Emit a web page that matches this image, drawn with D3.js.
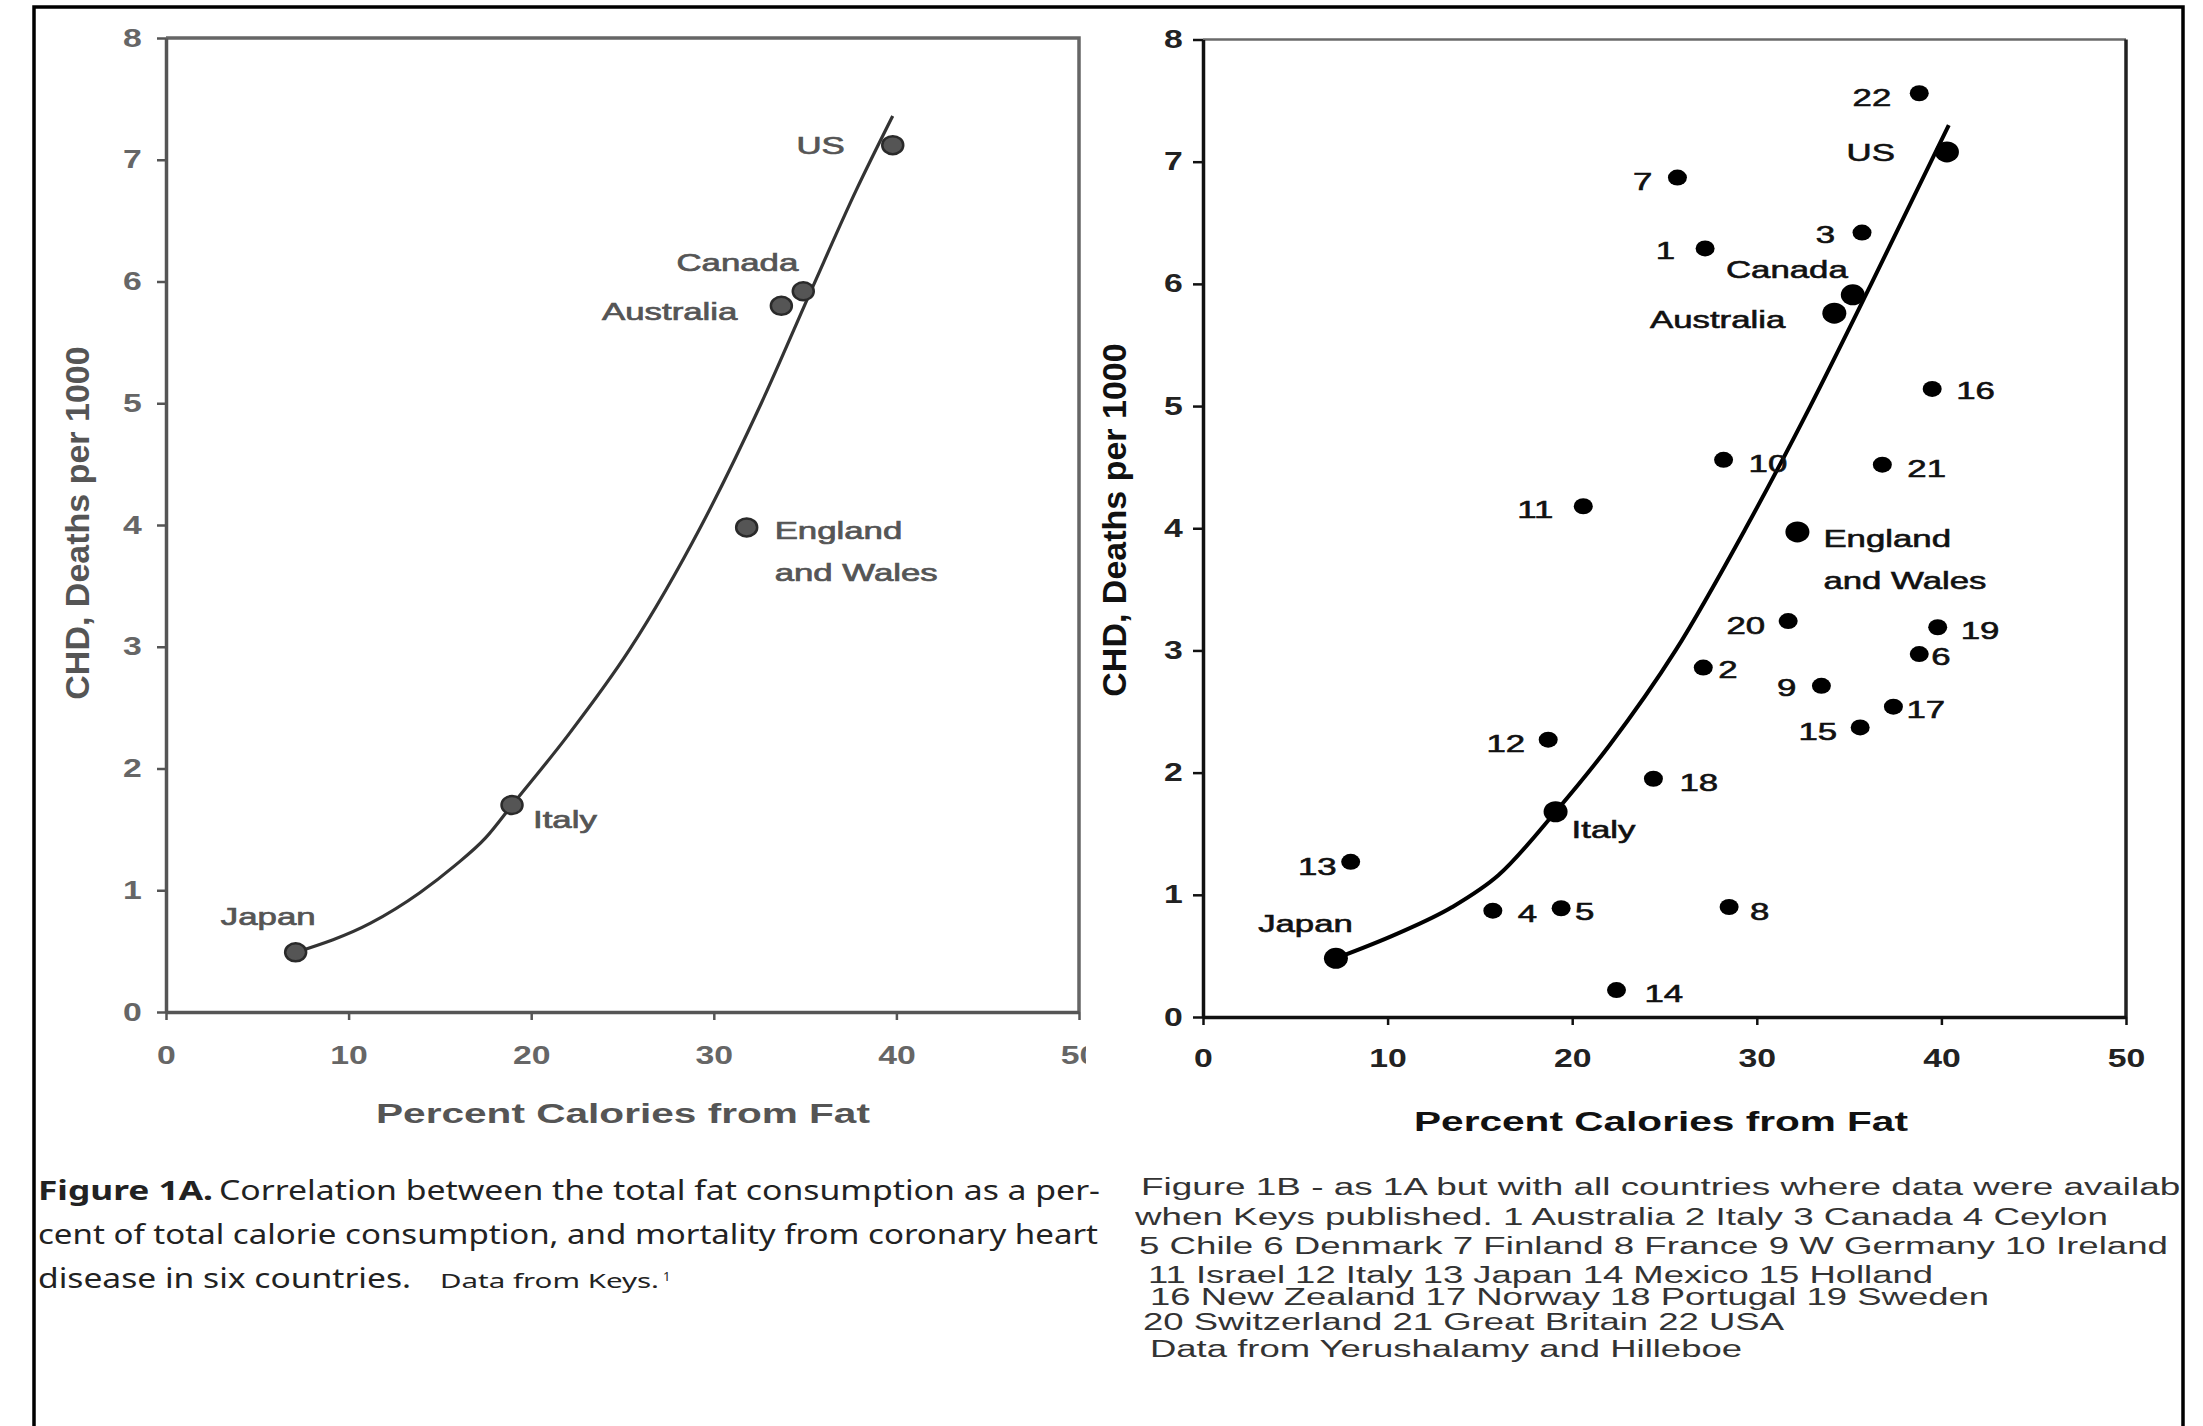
<!DOCTYPE html>
<html>
<head>
<meta charset="utf-8">
<script src="https://cdn.jsdelivr.net/npm/d3@7"></script>
<style>
  html, body { margin: 0; padding: 0; background: #fff; }
  svg { display: block; }
</style>
</head>
<body>
<svg id="chart" width="2203" height="1426"></svg>
<script>
// ---------- Figure 1A: Keys' six countries ----------
const keysCountries = ["Japan", "Italy", "England and Wales", "Australia", "Canada", "US"];
const keysFat = [7.1, 18.95, 31.8, 33.7, 34.9, 39.8];
const keysCHD = [0.49, 1.70, 3.98, 5.80, 5.92, 7.12];

// fitted curve drawn through Keys' points
const keysCurveFat = [7.1, 11.2, 13.9, 15.8, 17.5, 18.95, 22.0, 25.4, 29.3, 32.6, 35.4, 37.8, 39.8];
const keysCurveCHD = [0.49, 0.73, 0.98, 1.20, 1.43, 1.70, 2.27, 2.98, 3.99, 5.00, 5.95, 6.75, 7.36];

// ---------- Figure 1B: all 22 countries ----------
const countryNumbers = [1, 2, 3, 4, 5, 6, 7, 8, 9, 10, 11, 12, 13, 14, 15, 16, 17, 18, 19, 20, 21, 22];
const allFat = [27.2, 27.1, 35.7, 15.7, 19.4, 38.8, 25.7, 28.5, 33.5, 28.2, 20.6,
                18.7, 8.0, 22.4, 35.6, 39.5, 37.4, 24.4, 39.8, 31.7, 36.8, 38.8];
const allCHD = [6.29, 2.86, 6.42, 0.87, 0.89, 2.97, 6.87, 0.90, 2.71, 4.56, 4.18,
                2.27, 1.27, 0.22, 2.37, 5.14, 2.54, 1.95, 3.19, 3.24, 4.52, 7.56];

// the six Keys countries as re-plotted in 1B
const keysFatB = [7.2, 19.1, 32.2, 34.2, 35.2, 40.3];
const keysCHDB = [0.48, 1.68, 3.97, 5.76, 5.91, 7.08];

const curveFatB = [7.2, 10.5, 13.5, 16.0, 19.1, 22.0, 25.6, 29.4, 32.9, 36.2, 40.4];
const curveCHDB = [0.48, 0.68, 0.90, 1.16, 1.68, 2.22, 3.00, 4.00, 5.00, 6.00, 7.30];

const xTickValues = [0, 10, 20, 30, 40, 50];
const yTickValues = [0, 1, 2, 3, 4, 5, 6, 7, 8];

const xTitle = "Percent Calories from Fat";
const yTitle = "CHD, Deaths per 1000";

const captionA = [
  "cent of total calorie consumption, and mortality from coronary heart"
];
const captionB = [
  "Figure 1B - as 1A but with all countries where data were available",
  "when Keys published. 1 Australia 2 Italy 3 Canada 4 Ceylon",
  "5 Chile 6 Denmark 7 Finland 8 France 9 W Germany 10 Ireland",
  "11 Israel 12 Italy 13 Japan 14 Mexico 15 Holland",
  "16 New Zealand 17 Norway 18 Portugal 19 Sweden",
  "20 Switzerland 21 Great Britain 22 USA",
  "Data from Yerushalamy and Hilleboe"
];

// ---------- layout ----------
const svg = d3.select("#chart");
svg.append("rect").attr("width", 2203).attr("height", 1426).attr("fill", "#fff");

const SANS = "'Liberation Sans', Arial, Helvetica, sans-serif";
const STRETCH = 1.45;   // printed lettering is set wide

function label(g, x, y, txt, o) {
  return g.append("text")
    .attr("transform", `translate(${x},${y}) scale(${o.sx || 1},1)`)
    .attr("text-anchor", o.anchor || "start")
    .attr("dominant-baseline", "central")
    .style("font-family", o.family || SANS)
    .style("font-size", o.size + "px")
    .style("font-weight", o.weight || 400)
    .attr("fill", o.color || "#111")
    .text(txt);
}

const defs = svg.append("defs");
defs.append("clipPath").attr("id", "clipA")
  .append("rect").attr("x", 0).attr("y", 0).attr("width", 1086).attr("height", 1426);
defs.append("clipPath").attr("id", "clipPage")
  .append("rect").attr("x", 36).attr("y", 0).attr("width", 2145).attr("height", 1426);

const xA = d3.scaleLinear().domain([0, 50]).range([166, 1079]);
const yA = d3.scaleLinear().domain([0, 8]).range([1012, 38]);
const xB = d3.scaleLinear().domain([0, 50]).range([1203, 2126]);
const yB = d3.scaleLinear().domain([0, 8]).range([1017, 39.5]);

// ================= Panel A =================
const gA = svg.append("g").attr("clip-path", "url(#clipA)");
const greyA = "#555";

gA.append("path")
  .attr("d", `M${xA(0)},${yA(8)} H${xA(50)} V${yA(0)}`)
  .attr("fill", "none").attr("stroke", "#666").attr("stroke-width", 3.5);

const axLeftA = gA.append("g").attr("transform", `translate(${xA(0)},0)`)
  .call(d3.axisLeft(yA).tickValues(yTickValues).tickSize(9).tickSizeOuter(0).tickPadding(9));
const axBotA = gA.append("g").attr("transform", `translate(0,${yA(0)})`)
  .call(d3.axisBottom(xA).tickValues(xTickValues).tickSize(8).tickSizeOuter(0));

[axLeftA, axBotA].forEach(ax => {
  ax.select(".domain").attr("stroke", "#555").attr("stroke-width", 3.5);
  ax.selectAll(".tick line").attr("stroke", "#555").attr("stroke-width", 2.5);
  ax.selectAll(".tick text")
    .attr("fill", "#666")
    .style("font-family", SANS).style("font-size", "25px").style("font-weight", 700);
});
axLeftA.selectAll(".tick text").attr("transform", "scale(1.35,1)");
axBotA.selectAll(".tick text")
  .attr("y", 43).attr("dy", null).attr("dominant-baseline", "central")
  .attr("transform", "scale(1.35,1)");

label(gA, 623, 1113, xTitle, { size: 28, weight: 700, sx: STRETCH, anchor: "middle", color: greyA });
gA.append("text")
  .attr("transform", "translate(77,523) rotate(-90)")
  .attr("text-anchor", "middle").attr("dominant-baseline", "central")
  .style("font-family", SANS).style("font-size", "34px").style("font-weight", 700)
  .attr("fill", greyA).text(yTitle);

const lineA = d3.line().curve(d3.curveMonotoneX)
  .x(i => xA(keysCurveFat[i])).y(i => yA(keysCurveCHD[i]));
gA.append("path").attr("d", lineA(d3.range(keysCurveFat.length)))
  .attr("fill", "none").attr("stroke", "#333").attr("stroke-width", 3.2);

gA.selectAll("ellipse.keys").data(d3.range(keysCountries.length)).join("ellipse")
  .attr("class", "keys")
  .attr("cx", i => xA(keysFat[i])).attr("cy", i => yA(keysCHD[i]))
  .attr("rx", 10.5).attr("ry", 9)
  .attr("fill", "#555").attr("stroke", "#2a2a2a").attr("stroke-width", 2.5);

const placeA = {
  "Japan":             { dx: 20,  dy: -36, anchor: "end" },
  "Italy":             { dx: 21,  dy: 15,  anchor: "start" },
  "England and Wales": { dx: 28,  dy: 3,   anchor: "start", gap: 42 },
  "Australia":         { dx: -44, dy: 6,   anchor: "end" },
  "Canada":            { dx: -5,  dy: -29, anchor: "end" },
  "US":                { dx: -48, dy: 0,   anchor: "end" }
};
keysCountries.forEach((name, i) => {
  const p = placeA[name];
  const parts = name.replace(" and ", "\nand ").split("\n");
  parts.forEach((t, k) => {
    label(gA, xA(keysFat[i]) + p.dx, yA(keysCHD[i]) + p.dy + k * (p.gap || 0), t,
      { size: 24, sx: STRETCH, anchor: p.anchor, color: greyA })
      .attr("stroke", greyA).attr("stroke-width", 0.7);
  });
});

// ================= Panel B =================
const gB = svg.append("g");
const ink = "#111";

gB.append("line")
  .attr("x1", xB(0)).attr("x2", xB(50)).attr("y1", yB(8)).attr("y2", yB(8))
  .attr("stroke", "#6a6a6a").attr("stroke-width", 2.5);
gB.append("line")
  .attr("x1", xB(50)).attr("x2", xB(50)).attr("y1", yB(8)).attr("y2", yB(0))
  .attr("stroke", "#222").attr("stroke-width", 3.5);

const axLeftB = gB.append("g").attr("transform", `translate(${xB(0)},0)`)
  .call(d3.axisLeft(yB).tickValues(yTickValues).tickSize(10).tickSizeOuter(0).tickPadding(5));
const axBotB = gB.append("g").attr("transform", `translate(0,${yB(0)})`)
  .call(d3.axisBottom(xB).tickValues(xTickValues).tickSize(8).tickSizeOuter(0));

[axLeftB, axBotB].forEach(ax => {
  ax.select(".domain").attr("stroke", "#111").attr("stroke-width", 3.5);
  ax.selectAll(".tick line").attr("stroke", "#111").attr("stroke-width", 2.5);
  ax.selectAll(".tick text")
    .attr("fill", "#222")
    .style("font-family", SANS).style("font-size", "25px").style("font-weight", 700);
});
axLeftB.selectAll(".tick text").attr("transform", "scale(1.35,1)");
axBotB.selectAll(".tick text")
  .attr("y", 41).attr("dy", null).attr("dominant-baseline", "central")
  .attr("transform", "scale(1.35,1)");

label(gB, 1661, 1121, xTitle, { size: 28, weight: 700, sx: STRETCH, anchor: "middle", color: ink });
gB.append("text")
  .attr("transform", "translate(1114,520) rotate(-90)")
  .attr("text-anchor", "middle").attr("dominant-baseline", "central")
  .style("font-family", SANS).style("font-size", "34px").style("font-weight", 700)
  .attr("fill", ink).text(yTitle);

const lineB = d3.line().curve(d3.curveMonotoneX)
  .x(i => xB(curveFatB[i])).y(i => yB(curveCHDB[i]));
gB.append("path").attr("d", lineB(d3.range(curveFatB.length)))
  .attr("fill", "none").attr("stroke", "#000").attr("stroke-width", 4);

// numbered countries
gB.selectAll("ellipse.num").data(d3.range(countryNumbers.length)).join("ellipse")
  .attr("class", "num")
  .attr("cx", i => xB(allFat[i])).attr("cy", i => yB(allCHD[i]))
  .attr("rx", 9.5).attr("ry", 8).attr("fill", "#000");

// Keys' six, drawn larger
gB.selectAll("ellipse.keys").data(d3.range(keysCountries.length)).join("ellipse")
  .attr("class", "keys")
  .attr("cx", i => xB(keysFatB[i])).attr("cy", i => yB(keysCHDB[i]))
  .attr("rx", 12).attr("ry", 10.5).attr("fill", "#000");

// label offsets (dx, dy) from each numbered dot; negative dx = label on the left
const placeNum = {
  1: [-30, 2], 2: [15, 2], 3: [-27, 2], 4: [25, 3], 5: [14, 3], 6: [12, 2],
  7: [-25, 4], 8: [21, 5], 9: [-25, 2], 10: [25, 4], 11: [-30, 3], 12: [-23, 4],
  13: [-14, 5], 14: [28, 3], 15: [-23, 4], 16: [24, 2], 17: [13, 3], 18: [26, 4],
  19: [23, 3], 20: [-23, 4], 21: [25, 4], 22: [-28, 4]
};
countryNumbers.forEach((n, i) => {
  const [dx, dy] = placeNum[n];
  label(gB, xB(allFat[i]) + dx, yB(allCHD[i]) + dy, String(n),
    { size: 24, sx: STRETCH, anchor: dx < 0 ? "end" : "start", color: ink })
    .attr("stroke", ink).attr("stroke-width", 0.6);
});

const placeB = {
  "Japan":             { dx: 17,  dy: -35, anchor: "end" },
  "Italy":             { dx: 16,  dy: 18,  anchor: "start" },
  "England and Wales": { dx: 26,  dy: 7,   anchor: "start", gap: 41.5 },
  "Australia":         { dx: -49, dy: 6,   anchor: "end" },
  "Canada":            { dx: -5,  dy: -25, anchor: "end" },
  "US":                { dx: -52, dy: 1,   anchor: "end" }
};
keysCountries.forEach((name, i) => {
  const p = placeB[name];
  const parts = name.replace(" and ", "\nand ").split("\n");
  parts.forEach((t, k) => {
    label(gB, xB(keysFatB[i]) + p.dx, yB(keysCHDB[i]) + p.dy + k * (p.gap || 0), t,
      { size: 24, sx: STRETCH, anchor: p.anchor, color: ink })
      .attr("stroke", ink).attr("stroke-width", 0.6);
  });
});

// ================= Captions =================
const capA = svg.append("g").attr("fill", "#222")
  .style("font-family", "'Noto Sans', 'Open Sans', sans-serif").style("font-size", "27px");
capA.append("text").attr("x", 38).attr("y", 1200).style("font-weight", 700)
  .attr("textLength", 175).attr("lengthAdjust", "spacingAndGlyphs").text("Figure 1A.");
capA.append("text").attr("x", 219).attr("y", 1200)
  .attr("textLength", 881).attr("lengthAdjust", "spacingAndGlyphs")
  .text("Correlation between the total fat consumption as a per-");
capA.append("text").attr("x", 38).attr("y", 1244)
  .attr("textLength", 1060).attr("lengthAdjust", "spacingAndGlyphs").text(captionA[0]);
capA.append("text").attr("x", 38).attr("y", 1288)
  .attr("textLength", 373).attr("lengthAdjust", "spacingAndGlyphs").text("disease in six countries.");
capA.append("text").attr("x", 440).attr("y", 1288).style("font-size", "20px")
  .attr("textLength", 219).attr("lengthAdjust", "spacingAndGlyphs").text("Data from Keys.");
capA.append("text").attr("x", 663).attr("y", 1281).style("font-size", "13px").text("1");

const capBLayout = [
  { x: 1141, y: 1195, w: 1068 },
  { x: 1135, y: 1225, w: 973 },
  { x: 1139, y: 1254, w: 1029 },
  { x: 1148, y: 1283, w: 785 },
  { x: 1150, y: 1305, w: 839 },
  { x: 1143, y: 1330, w: 641 },
  { x: 1150, y: 1357, w: 592 }
];
const capB = svg.append("g").attr("clip-path", "url(#clipPage)").attr("fill", "#333")
  .style("font-family", SANS).style("font-size", "23px");
captionB.forEach((t, i) => {
  const L = capBLayout[i];
  capB.append("text").attr("x", L.x).attr("y", L.y)
    .attr("textLength", L.w).attr("lengthAdjust", "spacingAndGlyphs").text(t);
});

// ================= page frame =================
svg.append("path")
  .attr("d", "M34,1426 V7 H2183 V1426")
  .attr("fill", "none").attr("stroke", "#000").attr("stroke-width", 3.5);
</script>
</body>
</html>
